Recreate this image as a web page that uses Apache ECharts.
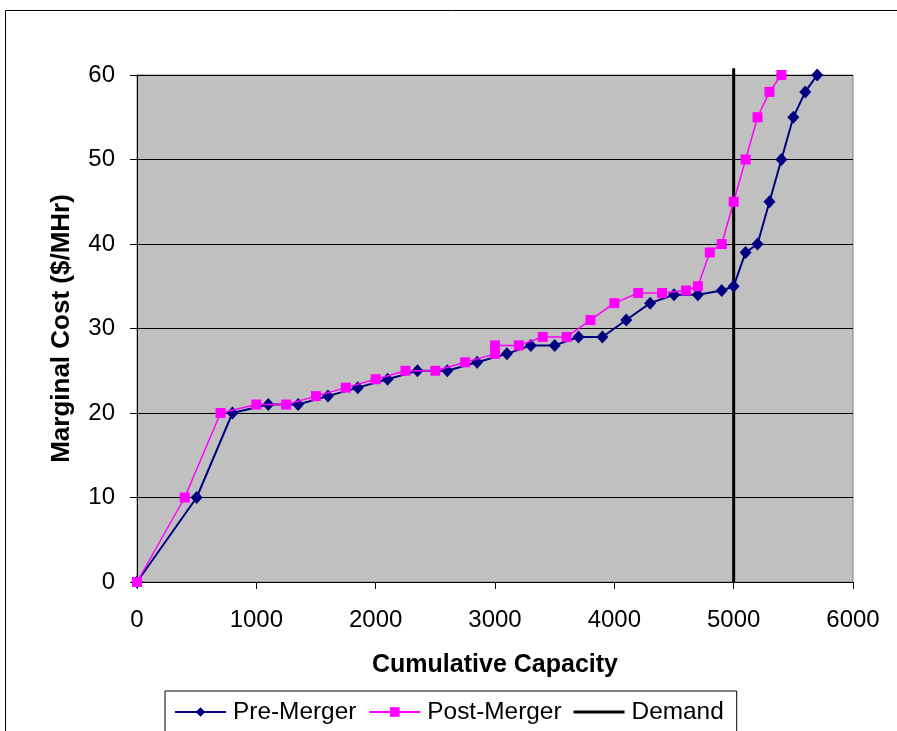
<!DOCTYPE html>
<html>
<head>
<meta charset="utf-8">
<script src="https://cdn.jsdelivr.net/npm/echarts@6/dist/echarts.min.js"></script>
<style>
html,body{margin:0;padding:0;background:#fff;}
#chart{width:897px;height:731px;}
</style>
</head>
<body>
<div id="chart"></div>
<script>
// Data
const preX = [0,500,800,1100,1350,1600,1850,2100,2350,2600,2850,3100,3300,3500,3700,3900,4100,4300,4500,4700,4900,5000,5100,5200,5300,5400,5500,5600,5700];
const preY = [0,10,20,21,21,22,23,24,25,25,26,27,28,28,29,29,31,33,34,34,34.5,35,39,40,45,50,55,58,60];
const postX = [0,400,700,1000,1250,1500,1750,2000,2250,2500,2750,3000,3000,3200,3400,3600,3800,4000,4200,4400,4600,4700,4800,4900,5000,5100,5200,5300,5400];
const postY = [0,10,20,21,21,22,23,24,25,25,26,27,28,28,29,29,31,33,34.2,34.2,34.5,35,39,40,45,50,55,58,60];
const demandX = [5000,5000];
const demandY = [0,60.8];
const seriesNames = ['Pre-Merger','Post-Merger','Demand'];
const xTitle = 'Cumulative Capacity';
const yTitle = 'Marginal Cost ($/MHr)';

const zip = (xs, ys) => xs.map((x, i) => [x, ys[i]]);
const FONT = "'Liberation Sans', Arial, sans-serif";

const chart = echarts.init(document.getElementById('chart'), null, {renderer: 'canvas'});
chart.setOption({
  animation: false,
  backgroundColor: '#fff',
  textStyle: {fontFamily: FONT},
  graphic: [{
    type: 'rect', z: -10,
    shape: {x: 5.5, y: 10.5, width: 1000, height: 1000},
    style: {fill: 'none', stroke: '#000', lineWidth: 1}
  }],
  grid: {
    left: 137, right: 44, top: 75, bottom: 149,
    show: true, backgroundColor: '#C0C0C0', borderColor: '#808080', borderWidth: 1
  },
  legend: {
    left: 165, top: 691,
    padding: [9, 13, 9, 9],
    borderColor: '#000', borderWidth: 1,
    itemWidth: 51, itemHeight: 12, itemGap: 12,
    textStyle: {fontSize: 24.4, color: '#000', fontFamily: FONT, padding: [0, 0, 0, 2]},
    data: [
      {name: seriesNames[0]},
      {name: seriesNames[1]},
      {name: seriesNames[2], icon: 'path://M0 0H51V3H0Z'}
    ]
  },
  xAxis: {
    type: 'value', min: 0, max: 6000, interval: 1000,
    name: xTitle, nameLocation: 'middle', nameGap: 71,
    nameTextStyle: {fontSize: 25, fontWeight: 'bold', color: '#000', fontFamily: FONT},
    axisLine: {show: true, onZero: false, lineStyle: {color: '#000', width: 1}},
    axisTick: {show: true, length: 7, lineStyle: {color: '#000'}},
    axisLabel: {fontSize: 24, color: '#000', margin: 26, fontFamily: FONT,
      formatter: v => String(v)},
    splitLine: {show: false}
  },
  yAxis: {
    type: 'value', min: 0, max: 60, interval: 10,
    name: yTitle, nameLocation: 'middle', nameGap: 62,
    nameTextStyle: {fontSize: 26, fontWeight: 'bold', color: '#000', fontFamily: FONT},
    axisLine: {show: true, lineStyle: {color: '#000', width: 1}},
    axisTick: {show: true, length: 7, lineStyle: {color: '#000'}},
    axisLabel: {fontSize: 24, color: '#000', margin: 22, fontFamily: FONT},
    splitLine: {show: true, lineStyle: {color: '#000', width: 1}}
  },
  series: [
    {
      name: seriesNames[0], type: 'line', z: 3,
      data: zip(preX, preY),
      symbol: 'diamond', symbolSize: [12, 13],
      lineStyle: {color: '#000080', width: 2},
      itemStyle: {color: '#000080'}
    },
    {
      name: seriesNames[1], type: 'line', z: 4,
      data: zip(postX, postY),
      symbol: 'rect', symbolSize: 10,
      lineStyle: {color: '#FF00FF', width: 1.5},
      itemStyle: {color: '#FF00FF'}
    },
    {
      name: seriesNames[2], type: 'line', z: 2,
      data: zip(demandX, demandY),
      symbol: 'none', clip: false,
      lineStyle: {color: '#000', width: 3},
      itemStyle: {color: '#000'}
    }
  ]
});
</script>
</body>
</html>
